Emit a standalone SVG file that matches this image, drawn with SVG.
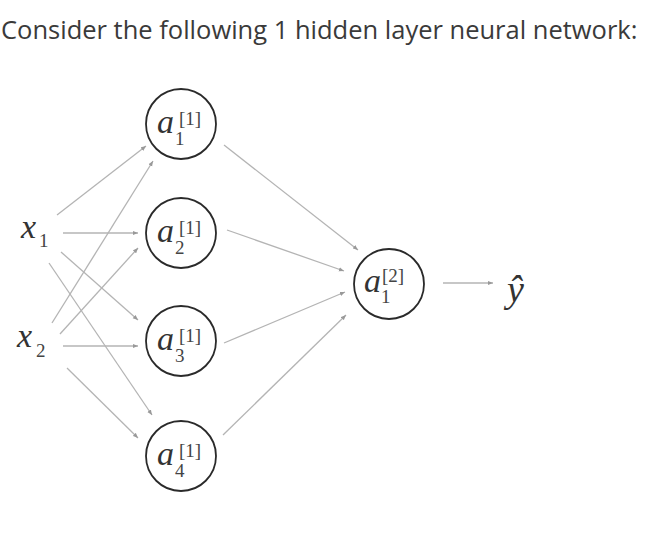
<svg xmlns="http://www.w3.org/2000/svg" width="645" height="534" viewBox="0 0 645 534">
<defs>
<marker id="ah" viewBox="0 0 6 6" refX="6" refY="3" markerWidth="4" markerHeight="4" orient="auto" markerUnits="strokeWidth">
<path d="M0,0.5 L6,3 L0,5.5 z" fill="#999"/>
</marker>
</defs>
<rect width="645" height="534" fill="#fff"/>
<text x="1" y="39" font-family="Open Sans" font-size="25.5" fill="#3a3a3a">Consider the following 1 hidden layer neural network:</text>
<g id="connectors" stroke="#b4b4b4" stroke-width="1.3" marker-end="url(#ah)">
<line x1="57" y1="215" x2="146" y2="146"/>
<line x1="63" y1="233" x2="138" y2="233"/>
<line x1="61" y1="252" x2="138" y2="320"/>
<line x1="49" y1="263" x2="152" y2="415"/>
<line x1="52" y1="323" x2="153" y2="161"/>
<line x1="60" y1="334" x2="138" y2="248"/>
<line x1="63" y1="346" x2="138" y2="346"/>
<line x1="67" y1="368" x2="138" y2="438"/>
<line x1="224" y1="145" x2="358" y2="250"/>
<line x1="227" y1="230" x2="344" y2="271"/>
<line x1="224" y1="343" x2="345" y2="292"/>
<line x1="223" y1="435" x2="346" y2="315"/>
<line x1="443" y1="283" x2="493" y2="283"/>
</g>
<g id="x1" font-family="Liberation Serif"><text x="21" y="238" font-size="34" fill="#333"><tspan font-style="italic">x</tspan></text><text x="39" y="247" font-size="19" fill="#444">1</text></g>
<g id="x2" font-family="Liberation Serif"><text x="17" y="347" font-size="34" fill="#333"><tspan font-style="italic">x</tspan></text><text x="36" y="357" font-size="19" fill="#444">2</text></g>
<g id="a1_1" font-family="Liberation Serif"><circle cx="181" cy="124" r="35" fill="#fff" stroke="#2a2a2a" stroke-width="1.8"/><text x="157" y="133" font-size="34" fill="#333"><tspan font-style="italic">a</tspan></text><text x="179" y="125" font-size="19" fill="#444">[1]</text><text x="175" y="145" font-size="19" fill="#444">1</text></g>
<g id="a1_2" font-family="Liberation Serif"><circle cx="181" cy="233" r="35" fill="#fff" stroke="#2a2a2a" stroke-width="1.8"/><text x="157" y="242" font-size="34" fill="#333"><tspan font-style="italic">a</tspan></text><text x="179" y="234" font-size="19" fill="#444">[1]</text><text x="175" y="254" font-size="19" fill="#444">2</text></g>
<g id="a1_3" font-family="Liberation Serif"><circle cx="181" cy="341" r="35" fill="#fff" stroke="#2a2a2a" stroke-width="1.8"/><text x="157" y="350" font-size="34" fill="#333"><tspan font-style="italic">a</tspan></text><text x="179" y="342" font-size="19" fill="#444">[1]</text><text x="175" y="362" font-size="19" fill="#444">3</text></g>
<g id="a1_4" font-family="Liberation Serif"><circle cx="181" cy="456" r="35" fill="#fff" stroke="#2a2a2a" stroke-width="1.8"/><text x="157" y="465" font-size="34" fill="#333"><tspan font-style="italic">a</tspan></text><text x="179" y="457" font-size="19" fill="#444">[1]</text><text x="175" y="477" font-size="19" fill="#444">4</text></g>
<g id="a2_1" font-family="Liberation Serif"><circle cx="389" cy="284" r="35" fill="#fff" stroke="#2a2a2a" stroke-width="1.8"/><text x="364" y="292" font-size="34" fill="#333"><tspan font-style="italic">a</tspan></text><text x="382" y="282" font-size="19" fill="#444">[2]</text><text x="381" y="303" font-size="19" fill="#444">1</text></g>
<g id="yhat" font-family="Liberation Serif"><text x="507" y="302" font-size="38" fill="#333"><tspan font-style="italic">ŷ</tspan></text></g>
</svg>
